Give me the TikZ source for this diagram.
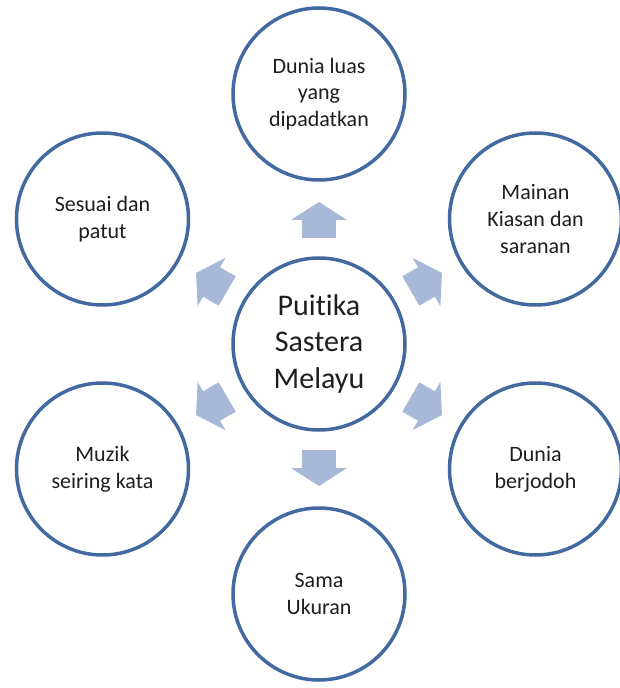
\documentclass[tikz,border=0pt]{standalone}
\usepackage{fontspec}
\setmainfont{Carlito}[Ligatures={NoCommon,NoRare}]
\definecolor{ringblue}{RGB}{66,106,160}
\definecolor{arrowblue}{RGB}{167,185,214}
\definecolor{textgray}{RGB}{30,30,30}
\tikzset{
  hub/.style={circle, draw=ringblue, line width=3.5pt, fill=white,
    minimum size=172pt, inner sep=0pt, align=center, text=textgray,
    font=\fontsize{30}{36.7}\selectfont},
  leaf/.style={circle, draw=ringblue, line width=3.5pt, fill=white,
    minimum size=172pt, inner sep=0pt, align=center, text=textgray,
    font=\fontsize{22}{26.7}\selectfont},
  blockarrow/.style={fill=arrowblue, draw=none}
}
\begin{document}
\begin{tikzpicture}[x=1pt, y=1pt]
  \useasboundingbox (-319,-344) rectangle (300,344);

  % central circle
  \node[hub] (hub) at (0,0) {Puitika\\Sastera\\Melayu};

  % surrounding circles
  \node[leaf] (n90)  at (90:250)  {Dunia luas\\yang\\dipadatkan};
  \node[leaf] (n30)  at (30:250)  {Mainan\\Kiasan dan\\saranan};
  \node[leaf] (n-30) at (-30:250) {Dunia\\berjodoh};
  \node[leaf] (n-90) at (-90:250) {Sama\\Ukuran};
  \node[leaf] (n-150) at (-150:250) {Muzik\\seiring kata};
  \node[leaf] (n150) at (150:250) {Sesuai dan\\patut};

  % block arrows pointing outward from the hub
  \foreach \a in {90,30,-30,-90,-150,150}{
    \fill[blockarrow, rotate=\a]
      (106,-17) -- (124,-17) -- (124,-28) -- (142,0) -- (124,28)
      -- (124,17) -- (106,17) -- cycle;
  }
\end{tikzpicture}
\end{document}
